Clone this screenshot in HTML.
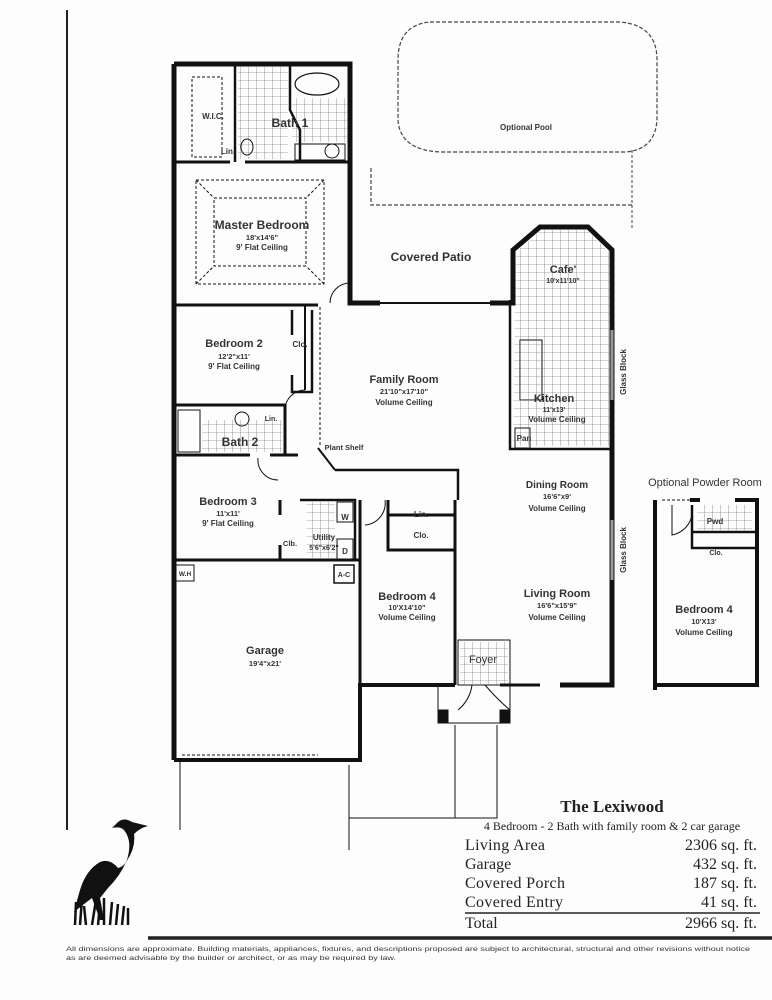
<!DOCTYPE html>
<html><head><meta charset="utf-8"><style>
html,body{margin:0;padding:0;background:#fff}
svg{display:block}
.s{font-family:"Liberation Sans",sans-serif;font-weight:bold;fill:#333}
.r{font-family:"Liberation Serif",serif;fill:#222}
</style></head><body>
<svg width="772" height="1000" viewBox="0 0 772 1000" xmlns="http://www.w3.org/2000/svg">
<rect width="772" height="1000" fill="#fdfdfd"/>
<line x1="67" y1="10" x2="67" y2="830" stroke="#222" stroke-width="2"/>
<path d="M430 22 L620 22 Q657 25 657 60 L657 120 Q655 150 625 152 L440 152 Q400 150 398 120 L398 60 Q398 25 430 22 Z" fill="none" stroke="#444" stroke-width="1.2" stroke-dasharray="4,2"/>
<text x="526" y="130" class="s" font-size="8" text-anchor="middle">Optional Pool</text>
<path d="M371 168 L371 205 L632 205" fill="none" stroke="#444" stroke-width="1.2" stroke-dasharray="4,2"/>
<path d="M632 150 L632 230" fill="none" stroke="#444" stroke-width="1" stroke-dasharray="3,2"/>
<text x="431" y="261" class="s" font-size="12" text-anchor="middle">Covered Patio</text>

<g fill="none" stroke="#111">
<path d="M174 64 L350 64 L350 303 L380 303" stroke-width="5"/>
<path d="M174 64 L174 760" stroke-width="5"/>
<path d="M490 303 L513 303 L513 250 L540 227 L588 227 L612 250 L612 685 L560 685" stroke-width="5"/>
<path d="M500 685 L540 685" stroke-width="3"/>
<path d="M455 685 L360 685 L360 760 L174 760" stroke-width="4"/>
<line x1="380" y1="303" x2="490" y2="303" stroke-width="2"/>
<path d="M174 162 L230 162 M245 162 L350 162" stroke-width="3"/>
<path d="M235 64 L235 162 M290 64 L290 110 L300 130 L300 162" stroke-width="2.5"/>
<path d="M174 305 L318 305" stroke-width="3"/>
<path d="M292 310 L292 335 M292 375 L292 392 L312 392 L312 310" stroke-width="2.5"/>
<path d="M174 405 L285 405 L285 455" stroke-width="3"/>
<path d="M174 455 L250 455 M270 455 L298 455" stroke-width="3"/>
<path d="M305 305 L305 390" stroke-width="2"/>
<path d="M335 470 L458 470 L458 500" stroke-width="2.5"/>
<path d="M318 448 L335 470" stroke-width="2"/>
<path d="M280 500 L280 515 M280 545 L280 560 L360 560" stroke-width="3"/>
<path d="M174 560 L280 560" stroke-width="3"/>
<path d="M300 500 L355 500 L355 560" stroke-width="2.5"/>
<path d="M360 500 L360 685" stroke-width="3"/>
<path d="M388 500 L388 550 L455 550 L455 500" stroke-width="3"/>
<path d="M388 515 L455 515" stroke-width="3"/>
<path d="M455 505 L455 685" stroke-width="3"/>
<path d="M510 300 L510 449 L612 449" stroke-width="2.5"/>
<rect x="458" y="640" width="52" height="45" stroke-width="1"/>
<path d="M438 685 L438 723 L510 723 L510 685" stroke-width="1"/>
<rect x="438" y="710" width="10" height="13" fill="#111"/>
<rect x="500" y="710" width="10" height="13" fill="#111"/>
<path d="M458 710 Q470 700 472 685 M510 710 Q498 700 485 685" stroke-width="1"/>
<line x1="182" y1="755" x2="318" y2="755" stroke-width="1" stroke-dasharray="3,2"/>
<path d="M180 760 L180 830 M349 765 L349 850 M349 818 L497 818 L497 725 M455 725 L455 818" stroke-width="1"/>
<path d="M655 500 L655 690 M655 685 L757 685 L757 500 L735 500 M700 500 L690 500" stroke-width="4"/>
<path d="M692 505 L692 532 L757 532 M692 532 L692 548 L757 548" stroke-width="2.5"/>
<line x1="662" y1="500" x2="690" y2="500" stroke-width="1" stroke-dasharray="3,2"/>
<ellipse cx="317" cy="84" rx="22" ry="11" stroke-width="1.2"/>
<rect x="192" y="77" width="30" height="80" stroke-width="1" stroke-dasharray="3,2"/>
<circle cx="332" cy="151" r="7" stroke-width="1"/>
<rect x="295" y="144" width="50" height="16" stroke-width="1"/>
<ellipse cx="247" cy="147" rx="6" ry="8" stroke-width="1"/>
<rect x="196" y="180" width="128" height="104" stroke-width="1" stroke-dasharray="3,2"/>
<rect x="214" y="198" width="92" height="68" stroke-width="1" stroke-dasharray="3,2"/>
<path d="M196 180 L214 198 M324 180 L306 198 M196 284 L214 266 M324 284 L306 266" stroke-width="1" stroke-dasharray="3,2"/>
<line x1="320" y1="307" x2="320" y2="445" stroke-width="1" stroke-dasharray="3,2"/>
<rect x="178" y="410" width="22" height="42" stroke-width="1"/>
<ellipse cx="242" cy="419" rx="7" ry="7" stroke-width="1"/>
<path d="M350 283 A20 20 0 0 0 330 303 M305 390 A20 20 0 0 0 285 410 M258 458 A20 20 0 0 0 278 480 M365 525 A22 22 0 0 0 385 500 M672 505 L672 535 A25 25 0 0 0 692 515" stroke-width="1"/>
<rect x="337" y="502" width="16" height="20" stroke-width="1"/>
<rect x="337" y="539" width="16" height="20" stroke-width="1"/>
<rect x="334" y="565" width="20" height="18" stroke-width="1.5"/>
<rect x="176" y="565" width="18" height="16" stroke-width="1"/>
<rect x="520" y="340" width="22" height="60" stroke-width="1"/>
<rect x="515" y="428" width="15" height="20" stroke-width="1"/>
</g>
<defs>
<pattern id="t" width="8" height="8" patternUnits="userSpaceOnUse"><path d="M8 0 L0 0 L0 8" fill="none" stroke="#555" stroke-width="0.6"/></pattern>
</defs>
<path d="M516 252 L541 230 L587 230 L609 252 L609 446 L513 446 Z" fill="url(#t)"/>
<rect x="238" y="67" width="50" height="92" fill="url(#t)"/>
<rect x="292" y="98" width="55" height="44" fill="url(#t)"/>
<rect x="202" y="420" width="80" height="32" fill="url(#t)"/>
<rect x="307" y="502" width="28" height="56" fill="url(#t)"/>
<rect x="460" y="642" width="48" height="42" fill="url(#t)"/>
<rect x="697" y="505" width="55" height="25" fill="url(#t)"/>
<line x1="612" y1="330" x2="612" y2="400" stroke="#999" stroke-width="3"/>
<line x1="612" y1="520" x2="612" y2="580" stroke="#999" stroke-width="3"/>

<g class="s" text-anchor="middle">
<text x="213" y="119" font-size="8">W.I.C.</text>
<text x="290" y="127" font-size="12">Bath 1</text>
<text x="228" y="154" font-size="8">Lin.</text>
<text x="262" y="229" font-size="12">Master Bedroom</text>
<text x="262" y="240" font-size="7.5">18'x14'6"</text>
<text x="262" y="250" font-size="8">9' Flat Ceiling</text>
<text x="234" y="347" font-size="11">Bedroom 2</text>
<text x="234" y="359" font-size="7.5">12'2"x11'</text>
<text x="234" y="369" font-size="8">9' Flat Ceiling</text>
<text x="300" y="347" font-size="8">Clo.</text>
<text x="404" y="383" font-size="11">Family Room</text>
<text x="404" y="394" font-size="7.5">21'10"x17'10"</text>
<text x="404" y="405" font-size="8">Volume Ceiling</text>
<text x="271" y="421" font-size="7">Lin.</text>
<text x="240" y="446" font-size="12">Bath 2</text>
<text x="344" y="450" font-size="7.5">Plant Shelf</text>
<text x="563" y="273" font-size="11">Cafe'</text>
<text x="563" y="283" font-size="7">10'x11'10"</text>
<text x="554" y="402" font-size="11">Kitchen</text>
<text x="554" y="412" font-size="7">11'x13'</text>
<text x="557" y="422" font-size="8">Volume Ceiling</text>
<text x="524" y="441" font-size="8">Pan</text>
<text x="557" y="488" font-size="10">Dining Room</text>
<text x="557" y="499" font-size="7.5">16'6"x9'</text>
<text x="557" y="511" font-size="8">Volume Ceiling</text>
<text x="228" y="505" font-size="11">Bedroom 3</text>
<text x="228" y="516" font-size="7.5">11'x11'</text>
<text x="228" y="526" font-size="8">9' Flat Ceiling</text>
<text x="290" y="546" font-size="7.5">Clb.</text>
<text x="324" y="540" font-size="8">Utility</text>
<text x="324" y="550" font-size="7">5'6"x6'2"</text>
<text x="345" y="520" font-size="8">W</text>
<text x="345" y="554" font-size="8">D</text>
<text x="344" y="577" font-size="7">A-C</text>
<text x="185" y="576" font-size="6.5">W.H</text>
<text x="421" y="517" font-size="8">Lin.</text>
<text x="421" y="538" font-size="8">Clo.</text>
<text x="407" y="600" font-size="11">Bedroom 4</text>
<text x="407" y="610" font-size="7.5">10'X14'10"</text>
<text x="407" y="620" font-size="8">Volume Ceiling</text>
<text x="557" y="597" font-size="11">Living Room</text>
<text x="557" y="608" font-size="7.5">16'6"x15'9"</text>
<text x="557" y="620" font-size="8">Volume  Ceiling</text>
<text x="483" y="663" font-size="11" font-weight="normal">Foyer</text>
<text x="265" y="654" font-size="11">Garage</text>
<text x="265" y="666" font-size="7.5">19'4"x21'</text>
<text x="705" y="486" font-size="11" font-weight="normal">Optional Powder Room</text>
<text x="715" y="524" font-size="8">Pwd</text>
<text x="716" y="555" font-size="7">Clo.</text>
<text x="704" y="613" font-size="11">Bedroom 4</text>
<text x="704" y="624" font-size="7.5">10'X13'</text>
<text x="704" y="635" font-size="8">Volume Ceiling</text>
</g>
<text x="626" y="372" class="s" font-size="8" transform="rotate(-90 626 372)" text-anchor="middle">Glass Block</text>
<text x="626" y="550" class="s" font-size="8" transform="rotate(-90 626 550)" text-anchor="middle">Glass Block</text>

<text x="612" y="812" class="r" font-size="17" font-weight="bold" text-anchor="middle">The Lexiwood</text>
<text x="612" y="830" class="r" font-size="12" text-anchor="middle">4 Bedroom - 2 Bath with family room &amp; 2 car garage</text>
<g class="r" font-size="16">
<text x="465" y="850" textLength="80">Living Area</text><text x="757" y="850" text-anchor="end">2306 sq. ft.</text>
<text x="465" y="869">Garage</text><text x="757" y="869" text-anchor="end">432 sq. ft.</text>
<text x="465" y="888" textLength="100">Covered Porch</text><text x="757" y="888" text-anchor="end">187 sq. ft.</text>
<text x="465" y="907" textLength="98">Covered Entry</text><text x="757" y="907" text-anchor="end">41 sq. ft.</text>
<text x="465" y="928">Total</text><text x="757" y="928" text-anchor="end">2966 sq. ft.</text>
</g>
<line x1="465" y1="913" x2="760" y2="913" stroke="#222" stroke-width="1.5"/>
<line x1="148" y1="938" x2="772" y2="938" stroke="#222" stroke-width="3.5"/>
<text x="66" y="951" font-family="Liberation Sans,sans-serif" font-size="6.3" fill="#333" textLength="684" lengthAdjust="spacingAndGlyphs">All dimensions are approximate.  Building materials, appliances, fixtures, and descriptions proposed are subject to architectural, structural and other revisions without notice</text>
<text x="66" y="960" font-family="Liberation Sans,sans-serif" font-size="6.3" fill="#333" textLength="330" lengthAdjust="spacingAndGlyphs">as are deemed advisable by the builder or architect, or as may be required by law.</text>

<!-- heron -->
<path d="M148 826 L132 822 Q124 817 118 822 L112 828 Q120 826 124 830 Q132 840 128 856 Q126 866 118 868 Q110 858 100 862 Q86 870 80 890 Q76 904 74 912 Q84 904 92 898 L100 920 L104 920 L100 898 L108 888 Q120 876 126 862 Q136 848 134 834 Q140 828 148 826 Z" fill="#111"/>
<path d="M75 925 L76 902 M80 925 L82 898 M86 925 L84 906 M92 925 L96 900 M98 925 L100 904 M104 925 L104 898 M110 925 L112 902 M116 925 L118 904 M122 925 L124 906 M128 925 L128 908" stroke="#111" stroke-width="2.5"/>
</svg>
</body></html>
